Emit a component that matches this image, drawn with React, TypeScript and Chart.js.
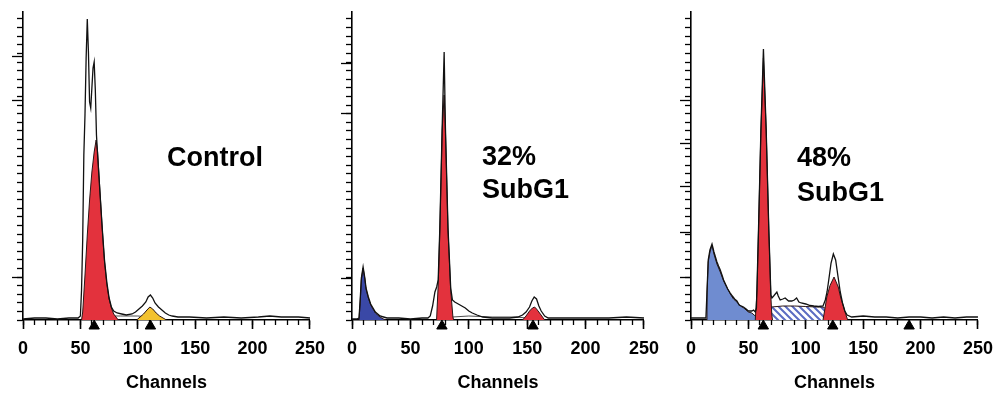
import React, { useEffect, useRef } from 'react';
import { Chart, registerables } from 'chart.js';

Chart.register(...registerables);

// ---------- shared axis content ----------
const X_MIN = 0;
const X_MAX = 250;
const X_MAJOR_STEP = 50;
const X_MINOR_STEP = 10;
const Y_MAX = 308;
const Y_MINOR_STEP = 8.6;
const X_TITLE = 'Channels';

// ---------- Panel 1 : Control ----------
const P1_TOTAL_CH = [0, 10, 20, 30, 40, 48, 50, 51, 52, 53, 54, 55, 56, 57, 58, 59, 60, 61, 62, 63, 64, 65, 67, 69, 71, 73, 75, 77, 79, 82, 86, 90, 95, 98, 101, 104, 107, 109, 111, 113, 115, 118, 121, 124, 127, 130, 135, 145, 160, 175, 190, 205, 215, 225, 240, 250];
const P1_TOTAL_N = [1, 2, 2, 1, 2, 2, 4, 30, 80, 165, 205, 262, 301, 268, 218, 212, 232, 252, 258, 230, 185, 165, 128, 92, 60, 38, 22, 13, 9, 7, 6, 5, 6, 8, 11, 14, 18, 23, 25, 22, 17, 13, 10, 7, 5, 4, 3, 3, 2, 3, 2, 3, 4, 3, 3, 2];
const P1_G1_CH = [51, 52, 54, 56, 58, 60, 62, 63.7, 65, 67, 69, 71, 73, 75, 77, 79, 81, 83];
const P1_G1_N = [0, 8, 45, 85, 120, 148, 168, 180, 168, 130, 92, 58, 36, 21, 12, 6, 3, 0];
const P1_G2_CH = [99, 102, 105, 108, 110.5, 113, 116, 119, 122, 125];
const P1_G2_N = [0, 3, 6, 10, 13, 11, 7, 4, 2, 0];
const P1_S_CH = [56, 62, 70, 85, 100, 110, 118, 122];
const P1_S_N = [0, 3, 4, 4, 4, 3, 1, 0];
const P1_MARKERS = [62, 111];
const P1_Y_MAJOR = [43, 220, 263];

// ---------- Panel 2 : 32% SubG1 ----------
const P2_TOTAL_CH = [0, 4, 6, 7, 8, 9.5, 11, 12, 14, 16, 18, 20, 22, 24, 27, 30, 40, 50, 60, 65, 67, 69, 71, 72.5, 73.8, 75.2, 77.2, 78.9, 80, 82.2, 84.5, 86, 88, 91, 94, 97, 100, 103, 107, 112, 120, 135, 142, 146, 149, 152, 154, 156, 158, 160, 162, 165, 168, 180, 200, 220, 235, 250];
const P2_TOTAL_N = [1, 1, 2, 20, 42, 53, 42, 32, 23, 16, 12, 8, 6, 4, 3, 2, 2, 1, 2, 2, 4, 14, 28, 33, 40, 92, 192, 268, 192, 92, 32, 20, 18, 16, 14, 12, 9, 7, 5, 3, 2, 2, 3, 5, 8, 13, 19, 23, 21, 14, 9, 4, 2, 2, 2, 2, 3, 2];
const P2_SUB_CH = [6, 7, 8, 9.5, 11, 12, 14, 16, 18, 20, 22, 24, 27, 29];
const P2_SUB_N = [0, 18, 40, 52, 41, 31, 22, 15, 11, 7, 5, 3, 1, 0];
const P2_G1_CH = [72.4, 73.8, 75.2, 77.2, 78.9, 80, 82.2, 84.5, 86.4, 87];
const P2_G1_N = [0, 35, 90, 190, 225, 190, 90, 30, 3, 0];
const P2_G2_CH = [146, 149, 152, 154.5, 156.3, 158, 160, 162.5, 165];
const P2_G2_N = [0, 4, 9, 12, 13, 11, 8, 4, 0];
const P2_S_CH = [80, 86, 100, 120, 140, 150, 158];
const P2_S_N = [0, 3, 4, 3, 3, 2, 0];
const P2_MARKERS = [77, 155];
const P2_Y_MAJOR = [42, 207, 257];

// ---------- Panel 3 : 48% SubG1 ----------
const P3_TOTAL_CH = [0, 8, 13, 14, 15, 16.5, 18.3, 20, 22.6, 24, 25.5, 27, 28.4, 30, 32, 34.2, 36, 38, 40, 42, 45.7, 48, 50, 53, 54.5, 56, 57, 58.8, 60.9, 63.1, 65.5, 67.8, 69.6, 70.5, 72, 74.8, 76, 77.7, 80, 82, 85, 87.8, 90, 92, 94, 96, 100, 103.7, 107, 111, 115, 117, 118.5, 120, 122, 124, 126, 128, 130, 132, 134, 136, 140, 150, 160, 170, 180, 190, 200, 210, 220, 230, 240, 250];
const P3_TOTAL_N = [2, 2, 2, 30, 60, 70, 76, 68, 58, 54, 50, 45, 40, 36, 31, 27, 24, 21, 19, 15, 13, 11, 9, 9, 10, 8, 12, 90, 190, 271, 190, 90, 25, 22, 24, 28, 24, 20, 21, 22, 19, 19, 20, 22, 18, 17, 16, 14.5, 14, 13.5, 14, 20, 28, 40, 57, 66, 60, 44, 28, 17, 9, 5, 3, 4, 3, 3, 2, 3, 3, 2, 3, 2, 3, 3];
const P3_SUB_CH = [13.9, 14, 15, 16.5, 18.3, 20, 22.6, 25.5, 28.4, 31, 34.2, 37, 40, 43, 46, 50, 53, 56, 58, 60];
const P3_SUB_N = [0, 28, 58, 68, 75, 66, 56, 48, 39, 33, 26, 21, 18, 14, 12, 8, 7, 4, 2, 0];
const P3_G1_CH = [56, 57.5, 58.8, 60.9, 63.1, 65.5, 67.8, 69.6, 70.4, 71];
const P3_G1_N = [0, 30, 90, 190, 262, 190, 90, 23, 5, 0];
const P3_S_CH = [58, 61, 64, 67, 70, 80, 90, 100, 110, 115, 118, 121, 124, 128, 132];
const P3_S_N = [0, 4, 8, 11, 13, 14, 14, 13.5, 13, 13, 11, 8, 5, 2, 0];
const P3_G2_CH = [115, 116.5, 118.3, 121.1, 124.6, 128.3, 130.5, 132.7, 134.5, 135.6, 136.5];
const P3_G2_N = [0, 10, 23, 34.5, 43, 33, 22, 14, 7, 3, 0];
const P3_MARKERS = [63, 123.5, 190];
const P3_Y_MAJOR = [43, 87, 133, 177, 220];

// ---------- styling ----------
const AXIS_FONT = "'Liberation Sans', Arial, Helvetica, sans-serif";
const LABEL_FONT = "'Liberation Sans', Arial, Helvetica, sans-serif";
const RED = '#e3323d';
const YELLOW = '#f3c22f';
const BLUE_DARK = '#3a48a6';
const BLUE_LIGHT = '#6f8cd0';

const pts = (xs: number[], ys: number[]) => xs.map((x, i) => ({ x, y: ys[i] }));

function makeHatch(): CanvasPattern | string {
  const c = document.createElement('canvas');
  c.width = 7;
  c.height = 7;
  const g = c.getContext('2d');
  if (!g) return '#a6b0e0';
  g.fillStyle = '#ffffff';
  g.fillRect(0, 0, 7, 7);
  g.strokeStyle = '#5b6cc2';
  g.lineWidth = 2;
  g.beginPath();
  g.moveTo(-1, -1);
  g.lineTo(8, 8);
  g.moveTo(-1, 6);
  g.lineTo(1, 8);
  g.moveTo(6, -1);
  g.lineTo(8, 1);
  g.stroke();
  return g.createPattern(c, 'repeat') ?? '#a6b0e0';
}

type Area = { ch: number[]; n: number[]; color: string } | null;

interface PanelProps {
  left: number;
  width: number;
  areaLeft: number;
  areaRight: number;
  top: number;
  total: { ch: number[]; n: number[] };
  g1: Area;
  g2: Area;
  sub: Area;
  sphase: Area;
  sLineOnly: boolean;
  markers: number[];
  yMajor: number[];
}

function Panel(p: PanelProps) {
  const ref = useRef<HTMLCanvasElement | null>(null);
  useEffect(() => {
    if (!ref.current) return;
    const hatch = makeHatch();
    const datasets: any[] = [];
    datasets.push({
      label: 'markers',
      data: p.markers.map((m) => ({ x: m, y: -6 })),
      showLine: false,
      pointStyle: 'triangle',
      pointRadius: 6,
      pointBackgroundColor: '#000',
      pointBorderColor: '#000',
      pointBorderWidth: 1,
      clip: false,
      order: 0,
    });
    datasets.push({
      label: 'total',
      data: pts(p.total.ch, p.total.n),
      borderColor: '#111',
      borderWidth: 1.3,
      pointRadius: 0,
      fill: false,
      order: 1,
    });
    const addArea = (a: Area, label: string, order: number) => {
      if (!a) return;
      datasets.push({
        label,
        data: pts(a.ch, a.n),
        borderColor: '#2a1515',
        borderWidth: 1,
        pointRadius: 0,
        backgroundColor: a.color === 'hatch' ? hatch : a.color,
        fill: 'origin',
        order,
      });
    };
    addArea(p.g1, 'G1', 2);
    addArea(p.g2, 'G2', 3);
    if (p.sphase) {
      if (p.sLineOnly) {
        datasets.push({
          label: 'S',
          data: pts(p.sphase.ch, p.sphase.n),
          borderColor: '#222',
          borderWidth: 0.8,
          pointRadius: 0,
          fill: false,
          order: 4,
        });
      } else {
        addArea(p.sphase, 'S', 4);
      }
    }
    addArea(p.sub, 'SubG1', 5);

    const chart = new Chart(ref.current, {
      type: 'line',
      data: { datasets },
      options: {
        animation: false,
        responsive: false,
        maintainAspectRatio: false,
        events: [],
        layout: { padding: { left: 0, right: p.width - p.areaRight, top: p.top, bottom: 0 } },
        plugins: { legend: { display: false }, tooltip: { enabled: false } },
        scales: {
          x: {
            type: 'linear',
            position: 'bottom',
            min: X_MIN,
            max: X_MAX,
            weight: 1,
            ticks: {
              stepSize: X_MAJOR_STEP,
              color: '#000',
              font: { family: AXIS_FONT, size: 18, weight: 'bold' },
              padding: 9,
              maxRotation: 0,
              autoSkip: false,
            },
            grid: { display: true, drawOnChartArea: false, drawTicks: true, tickLength: 9, tickWidth: 1.6, tickColor: '#000' },
            border: { display: true, color: '#000', width: 1.6 },
            title: {
              display: true,
              text: X_TITLE,
              color: '#000',
              font: { family: AXIS_FONT, size: 18, weight: 'bold' },
              padding: { top: 0, bottom: 2 },
            },
            afterFit: (s: any) => {
              s.height = 396 - 320;
            },
          },
          xMinor: {
            type: 'linear',
            position: 'bottom',
            min: X_MIN,
            max: X_MAX,
            weight: 0,
            ticks: { stepSize: X_MINOR_STEP, display: false },
            grid: { display: true, drawOnChartArea: false, drawTicks: true, tickLength: 5, tickWidth: 1.3, tickColor: '#000' },
            border: { display: false },
            afterFit: (s: any) => {
              s.height = 0;
            },
          },
          y: {
            type: 'linear',
            position: 'left',
            min: 0,
            max: Y_MAX,
            weight: 1,
            ticks: { display: false, stepSize: Y_MINOR_STEP, includeBounds: false },
            grid: { display: true, drawOnChartArea: false, drawTicks: true, tickLength: 6, tickWidth: 1.3, tickColor: '#000' },
            border: { display: true, color: '#000', width: 1.6 },
            afterFit: (s: any) => {
              s.width = p.areaLeft;
            },
          },
          yMajor: {
            type: 'linear',
            position: 'left',
            min: 0,
            max: Y_MAX,
            weight: 0,
            ticks: { display: false },
            afterBuildTicks: (s: any) => {
              s.ticks = p.yMajor.map((v) => ({ value: v }));
            },
            grid: { display: true, drawOnChartArea: false, drawTicks: true, tickLength: 11, tickWidth: 1.3, tickColor: '#000' },
            border: { display: false },
            afterFit: (s: any) => {
              s.width = 0;
            },
          },
        },
      } as any,
    });
    return () => chart.destroy();
  }, []);
  return (
    <canvas
      ref={ref}
      width={p.width}
      height={396}
      style={{ position: 'absolute', left: p.left, top: 0, width: p.width, height: 396 }}
    />
  );
}

const labelStyle: React.CSSProperties = {
  position: 'absolute',
  fontFamily: LABEL_FONT,
  fontWeight: 'bold',
  fontSize: 27,
  color: '#000',
  whiteSpace: 'nowrap',
};

export default function App() {
  return (
    <div style={{ position: 'absolute', left: 0, top: 0, width: 1002, height: 396, background: '#fff', overflow: 'hidden' }}>
      <Panel
        left={0}
        width={334}
        areaLeft={23}
        areaRight={312}
        top={12}
        total={{ ch: P1_TOTAL_CH, n: P1_TOTAL_N }}
        g1={{ ch: P1_G1_CH, n: P1_G1_N, color: RED }}
        g2={{ ch: P1_G2_CH, n: P1_G2_N, color: YELLOW }}
        sub={null}
        sphase={{ ch: P1_S_CH, n: P1_S_N, color: '#222' }}
        sLineOnly={true}
        markers={P1_MARKERS}
        yMajor={P1_Y_MAJOR}
      />
      <Panel
        left={334}
        width={334}
        areaLeft={18}
        areaRight={316}
        top={12}
        total={{ ch: P2_TOTAL_CH, n: P2_TOTAL_N }}
        g1={{ ch: P2_G1_CH, n: P2_G1_N, color: RED }}
        g2={{ ch: P2_G2_CH, n: P2_G2_N, color: RED }}
        sub={{ ch: P2_SUB_CH, n: P2_SUB_N, color: BLUE_DARK }}
        sphase={{ ch: P2_S_CH, n: P2_S_N, color: '#222' }}
        sLineOnly={true}
        markers={P2_MARKERS}
        yMajor={P2_Y_MAJOR}
      />
      <Panel
        left={668}
        width={334}
        areaLeft={23}
        areaRight={310}
        top={12}
        total={{ ch: P3_TOTAL_CH, n: P3_TOTAL_N }}
        g1={{ ch: P3_G1_CH, n: P3_G1_N, color: RED }}
        g2={{ ch: P3_G2_CH, n: P3_G2_N, color: RED }}
        sub={{ ch: P3_SUB_CH, n: P3_SUB_N, color: BLUE_LIGHT }}
        sphase={{ ch: P3_S_CH, n: P3_S_N, color: 'hatch' }}
        sLineOnly={false}
        markers={P3_MARKERS}
        yMajor={P3_Y_MAJOR}
      />
      <div style={{ ...labelStyle, left: 167, top: 144, lineHeight: '27px' }}>Control</div>
      <div style={{ ...labelStyle, left: 482, top: 140, lineHeight: '33px' }}>
        32%
        <br />
        SubG1
      </div>
      <div style={{ ...labelStyle, left: 797, top: 140, lineHeight: '35px' }}>
        48%
        <br />
        SubG1
      </div>
    </div>
  );
}
